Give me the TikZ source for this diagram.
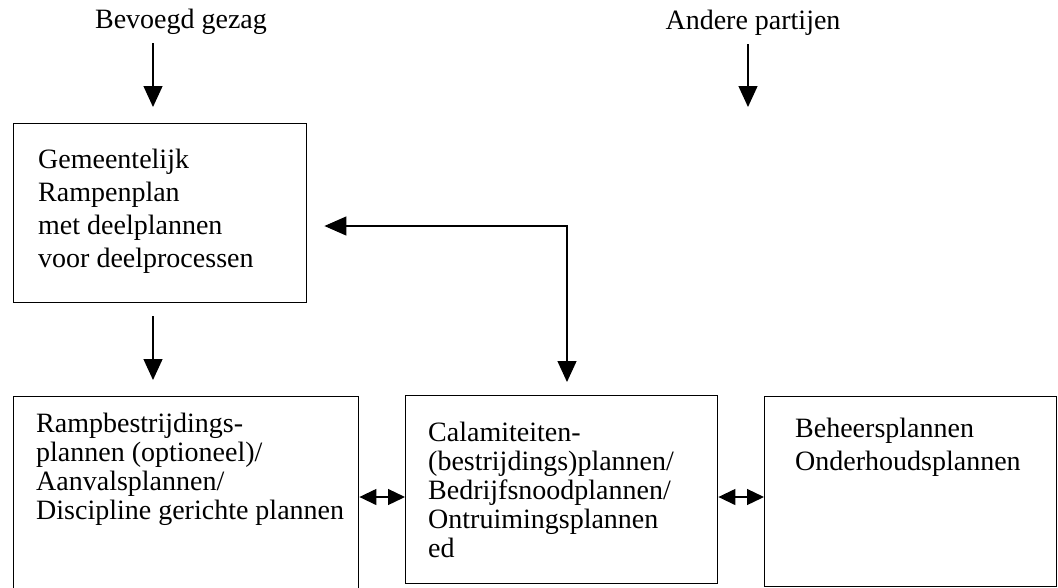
\documentclass[tikz,border=0pt]{standalone}
\usepackage{fontspec}
\setmainfont{Liberation Serif}
\usetikzlibrary{arrows.meta}
\begin{document}
\begin{tikzpicture}[x=1pt,y=-1pt,
  box/.style={draw, line width=1.4pt, anchor=north west, inner sep=0pt},
  txt/.style={font=\fontsize{28}{29}\selectfont, align=left, inner sep=0pt, anchor=base west},
  lbl/.style={font=\fontsize{28}{29}\selectfont, inner sep=0pt, anchor=base},
  arr/.style={line width=1.3pt, -{Triangle[width=19pt,length=21pt]}},
  arrtwo/.style={line width=1.3pt, {Triangle[width=19pt,length=22pt]}-{Triangle[width=19pt,length=21pt]}},
  dbl/.style={line width=1.3pt, {Triangle[width=16pt,length=17pt]}-{Triangle[width=16pt,length=17pt]}}]
\useasboundingbox (0,0) rectangle (1058,587);
\clip (0,0) rectangle (1058,587);
\fill[white] (0,0) rectangle (1058,587);

% boxes
\node[box, minimum width=293pt, minimum height=179pt] (gem) at (13,123) {};
\node[box, minimum width=345pt, minimum height=205pt] (ramp) at (13,396) {};
\node[box, minimum width=312pt, minimum height=188pt] (cal) at (405,395) {};
\node[box, minimum width=292pt, minimum height=190pt] (beh) at (764,396) {};

% texts (base anchor = baseline of the last line)
\node[txt, font=\fontsize{28}{33}\selectfont] (gemT) at (38,267) {Gemeentelijk\\Rampenplan\\met deelplannen\\voor deelprocessen};
\node[txt] (rampT) at (36,519) {Rampbestrijdings-\\plannen (optioneel)/\\Aanvalsplannen/\\Discipline gerichte plannen};
\node[txt] (calT) at (428,557) {Calamiteiten-\\(bestrijdings)plannen/\\Bedrijfsnoodplannen/\\Ontruimingsplannen\\ed};
\node[txt, font=\fontsize{28}{33}\selectfont] (behT) at (795,470) {Beheersplannen\\Onderhoudsplannen};

% top labels
\node[lbl] (bev) at (181,28) {Bevoegd gezag};
\node[lbl] (and) at (753,29) {Andere partijen};

% helper coordinates
\coordinate (x1) at (153,0);
\coordinate (andE) at (748,107);
\coordinate (corner) at (567,226);
\coordinate (d1) at (0,497);

% connectors
\draw[arr, shorten <=9pt, shorten >=16pt] (bev.south -| x1) -- (gem.north -| x1);
\draw[arr, shorten <=9pt] (and.south -| andE) -- (andE);
\draw[arr, shorten <=13pt, shorten >=16pt] (gem.south -| x1) -- (ramp.north -| x1);
\draw[arrtwo, shorten <=17pt, shorten >=13pt] (gem.east |- corner) -- (corner) -- (cal.north -| corner);
\draw[dbl] (ramp.east |- d1) -- (cal.west |- d1);
\draw[dbl] (cal.east |- d1) -- (beh.west |- d1);
\end{tikzpicture}
\end{document}
